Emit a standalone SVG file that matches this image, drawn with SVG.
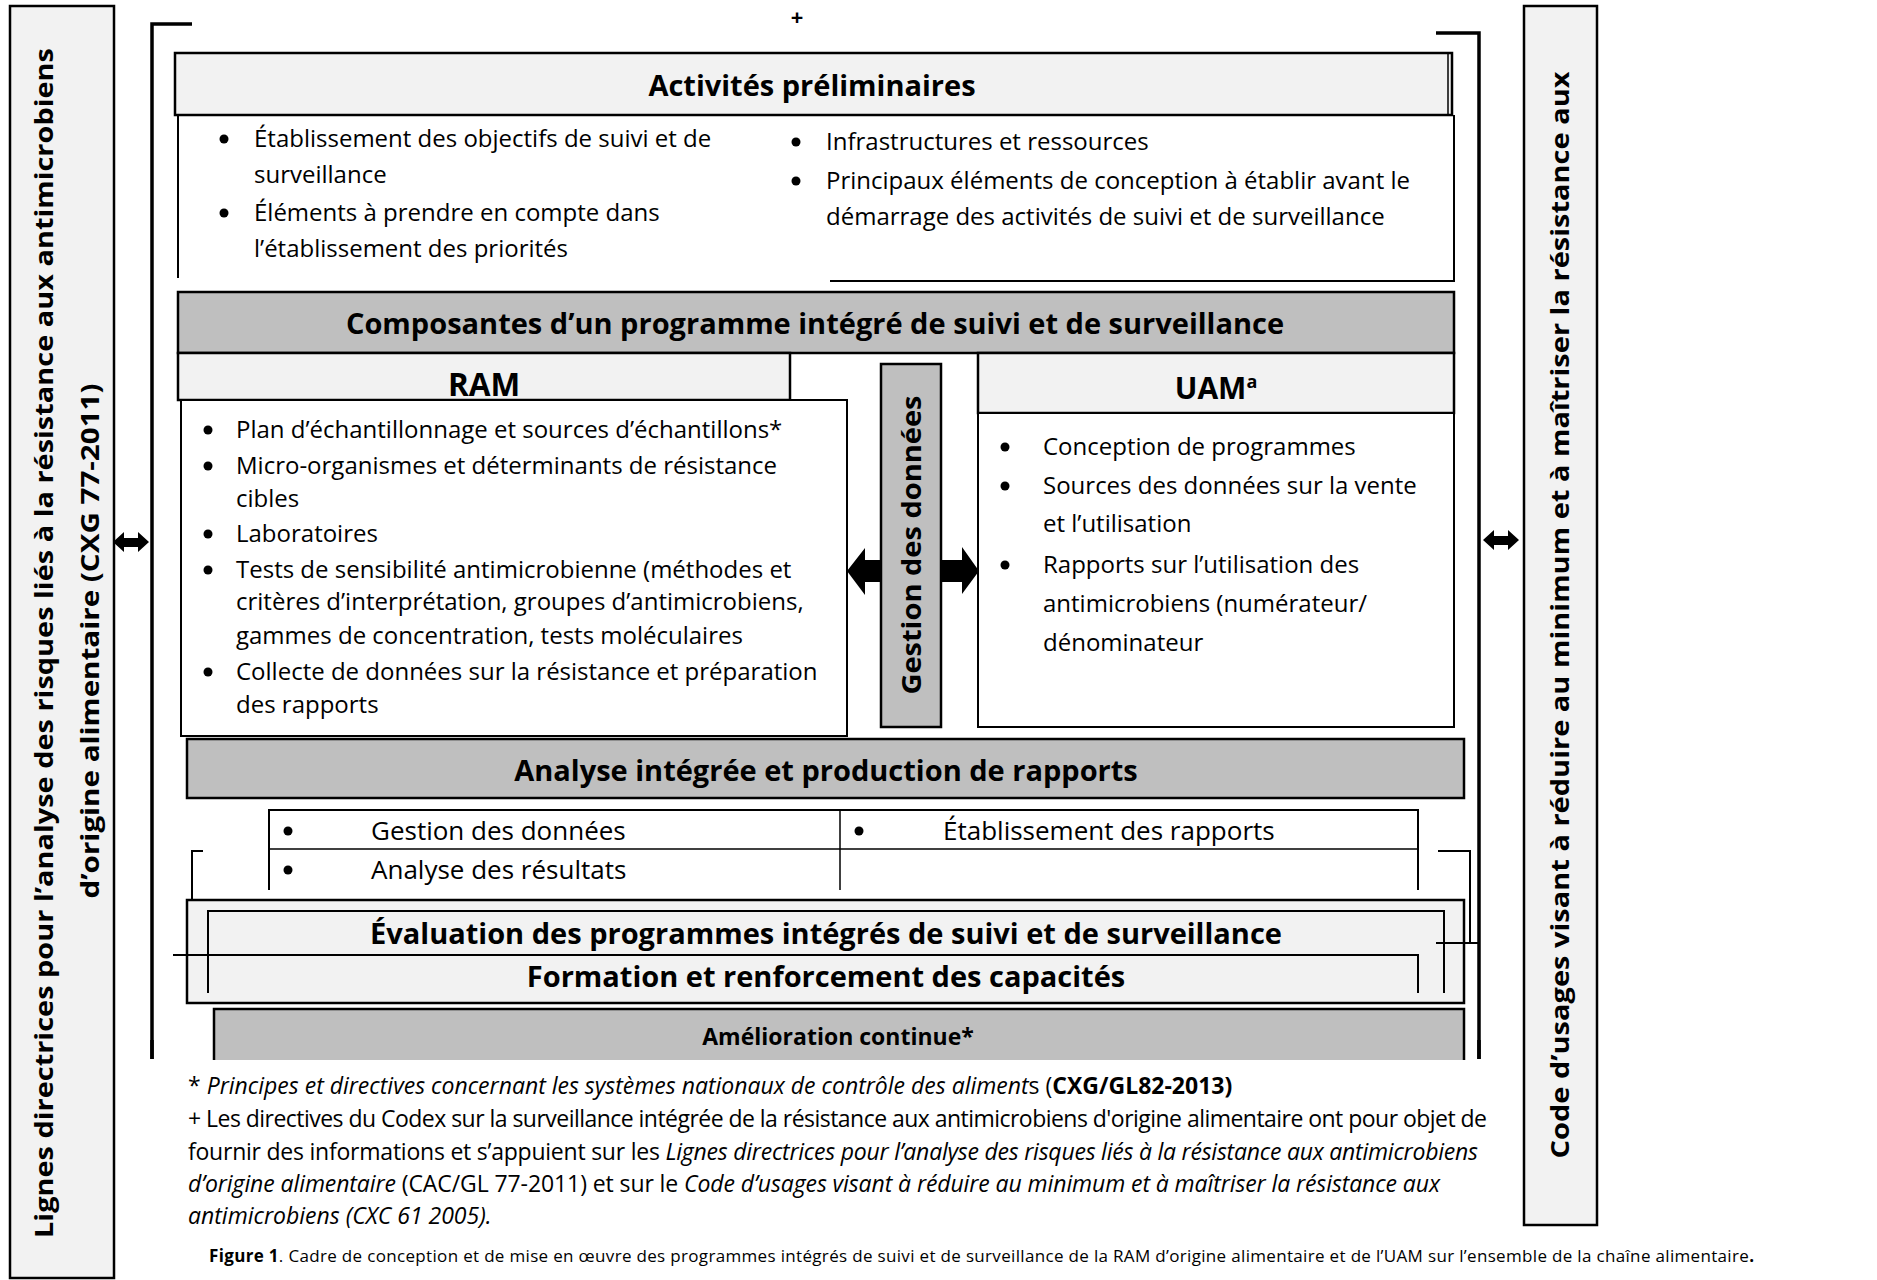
<svg xmlns="http://www.w3.org/2000/svg" width="1877" height="1280" viewBox="0 0 1877 1280">
<style>
text{font-family:"Open Sans","Liberation Sans",sans-serif;fill:#000}
.t{font-weight:bold;font-size:29px;text-anchor:middle}
.b{font-size:24px}
.tb{font-size:26px}
.side{font-weight:bold;font-size:25px;text-anchor:middle}
.fn{font-size:23px}
.i{font-style:italic}
.bd{font-weight:bold}
.lt{fill:#f2f2f2;stroke:#000;stroke-width:2.5}
.gr{fill:#bfbfbf;stroke:#000;stroke-width:2.5}
.wh{fill:#fff;stroke:#000;stroke-width:2}
.ln{fill:none;stroke:#000;stroke-width:2}
.thk{fill:none;stroke:#000;stroke-width:3.5}
.dot{fill:#000}
</style>
<rect width="1877" height="1280" fill="#fff"/>

<g id="left-guidelines">
<rect x="10" y="6" width="104" height="1272" class="lt" stroke-width="3"/>
<text class="side" transform="translate(44,643) rotate(-90)" dy="9" textLength="1190" lengthAdjust="spacingAndGlyphs">Lignes directrices pour l’analyse des risques liés à la résistance aux antimicrobiens</text>
<text class="side" transform="translate(90,641) rotate(-90)" dy="9" textLength="515" lengthAdjust="spacingAndGlyphs">d’origine alimentaire (CXG 77-2011)</text>
</g>

<g id="right-code">
<rect x="1524" y="6" width="73" height="1219" class="lt" stroke-width="3"/>
<text class="side" transform="translate(1560,615) rotate(-90)" dy="9" textLength="1087" lengthAdjust="spacingAndGlyphs">Code d’usages visant à réduire au minimum et à maîtriser la résistance aux</text>
</g>

<g id="frame">
<polyline points="192,24 152,24 152,1059" class="thk"/>
<polyline points="1436,33 1479,33 1479,1059" class="thk"/>
<text x="797" y="25" style="font-size:22px;font-weight:bold" text-anchor="middle">+</text>
</g>

<g id="connectors">
<polygon points="113,542 124,532 124,538 138,538 138,532 149,542 138,552 138,547 124,547 124,552" fill="#000"/>
<polygon points="1483,540 1494,530 1494,536 1508,536 1508,530 1519,540 1508,550 1508,545 1494,545 1494,550" fill="#000"/>
<polygon points="847,571 865,548 865,560 962,560 962,547 979,571 962,594 962,582 865,582 865,595" fill="#000"/>
</g>

<g id="activites">
<rect x="175" y="53" width="1277" height="62" class="lt" stroke-width="3"/>
<line x1="1448" y1="53" x2="1448" y2="115" stroke="#000" stroke-width="1.5"/>
<text class="t" x="812" y="96">Activités préliminaires</text>
<polyline points="178,115 178,278" class="ln"/>
<polyline points="1454,115 1454,281 830,281" class="ln" stroke-width="2.5"/>
<circle cx="224" cy="139" r="4.5" class="dot"/>
<text x="254" y="147" class="b">Établissement des objectifs de suivi et de</text>
<text x="254" y="183" class="b">surveillance</text>
<circle cx="224" cy="213" r="4.5" class="dot"/>
<text x="254" y="221" class="b">Éléments à prendre en compte dans</text>
<text x="254" y="257" class="b">l’établissement des priorités</text>
<circle cx="796" cy="142" r="4.5" class="dot"/>
<text x="826" y="150" class="b">Infrastructures et ressources</text>
<circle cx="796" cy="181" r="4.5" class="dot"/>
<text x="826" y="189" class="b">Principaux éléments de conception à établir avant le</text>
<text x="826" y="225" class="b">démarrage des activités de suivi et de surveillance</text>
</g>

<g id="composantes">
<rect x="178" y="292" width="1276" height="61" class="gr"/>
<text class="t" x="815" y="334">Composantes d’un programme intégré de suivi et de surveillance</text>
</g>

<g id="ram">
<rect x="178" y="353" width="612" height="47" class="lt" stroke-width="2"/>
<text class="t" x="484" y="396" style="font-size:31.5px">RAM</text>
<rect x="181" y="400" width="666" height="336" class="wh" stroke-width="2.5"/>
<circle cx="208" cy="430" r="4.5" class="dot"/>
<text x="236" y="438" class="b">Plan d’échantillonnage et sources d’échantillons*</text>
<circle cx="208" cy="466" r="4.5" class="dot"/>
<text x="236" y="474" class="b">Micro-organismes et déterminants de résistance</text>
<text x="236" y="507" class="b">cibles</text>
<circle cx="208" cy="534" r="4.5" class="dot"/>
<text x="236" y="542" class="b">Laboratoires</text>
<circle cx="208" cy="570" r="4.5" class="dot"/>
<text x="236" y="578" class="b">Tests de sensibilité antimicrobienne (méthodes et</text>
<text x="236" y="610" class="b">critères d’interprétation, groupes d’antimicrobiens,</text>
<text x="236" y="644" class="b">gammes de concentration, tests moléculaires</text>
<circle cx="208" cy="672" r="4.5" class="dot"/>
<text x="236" y="680" class="b">Collecte de données sur la résistance et préparation</text>
<text x="236" y="713" class="b">des rapports</text>
</g>

<g id="gestion">
<rect x="881" y="364" width="60" height="363" class="gr"/>
<text class="t" transform="translate(912,545) rotate(-90)" dy="9" style="font-size:27px" textLength="299" lengthAdjust="spacingAndGlyphs">Gestion des données</text>
</g>

<g id="uam">
<rect x="978" y="353" width="476" height="60" class="lt" stroke-width="2.5"/>
<text class="t" x="1216" y="399" style="font-size:30px">UAM<tspan style="font-size:18px" dy="-11">a</tspan></text>
<rect x="978" y="413" width="476" height="314" class="wh" stroke-width="2.5"/>
<circle cx="1005" cy="447" r="4.5" class="dot"/>
<text x="1043" y="455" class="b">Conception de programmes</text>
<circle cx="1005" cy="486" r="4.5" class="dot"/>
<text x="1043" y="494" class="b">Sources des données sur la vente</text>
<text x="1043" y="532" class="b">et l’utilisation</text>
<circle cx="1005" cy="565" r="4.5" class="dot"/>
<text x="1043" y="573" class="b">Rapports sur l’utilisation des</text>
<text x="1043" y="612" class="b">antimicrobiens (numérateur/</text>
<text x="1043" y="651" class="b">dénominateur</text>
</g>

<g id="analyse">
<rect x="187" y="739" width="1277" height="59" class="gr"/>
<text class="t" x="826" y="781">Analyse intégrée et production de rapports</text>
<polyline points="269,890 269,810 1418,810 1418,890" class="ln" stroke-width="1.5"/>
<line x1="269" y1="849" x2="1418" y2="849" stroke="#000" stroke-width="1.5"/>
<line x1="840" y1="810" x2="840" y2="890" stroke="#000" stroke-width="1.5"/>
<circle cx="288" cy="831" r="4.5" class="dot"/>
<text x="371" y="840" class="tb">Gestion des données</text>
<circle cx="859" cy="831" r="4.5" class="dot"/>
<text x="943" y="840" class="tb">Établissement des rapports</text>
<circle cx="288" cy="870" r="4.5" class="dot"/>
<text x="371" y="879" class="tb">Analyse des résultats</text>
<polyline points="203,851 192,851 192,900" class="ln" stroke-width="2.5" stroke="#333"/>
<polyline points="1438,851 1470,851 1470,943" class="ln" stroke-width="2.5" stroke="#333"/>
</g>

<g id="evaluation">
<rect x="187" y="900" width="1277" height="103" class="lt" stroke-width="3"/>
<polyline points="208,993 208,911 1444,911 1444,993" class="ln"/>
<polyline points="173,955 1418,955 1418,993" class="ln"/>
<line x1="1436" y1="943" x2="1478" y2="943" stroke="#000" stroke-width="2"/>
<text class="t" x="826" y="944">Évaluation des programmes intégrés de suivi et de surveillance</text>
<text class="t" x="826" y="987">Formation et renforcement des capacités</text>
</g>

<g id="amelioration">
<rect x="214" y="1009" width="1250" height="55" class="gr"/>
<rect x="150" y="1060" width="1340" height="10" fill="#fff"/>
<line x1="152" y1="1040" x2="152" y2="1059" stroke="#000" stroke-width="3.5"/>
<line x1="1479" y1="1040" x2="1479" y2="1059" stroke="#000" stroke-width="3.5"/>
<text class="t" x="838" y="1045" style="font-size:23px">Amélioration continue*</text>
</g>

<g id="notes">
<text x="188" y="1094" class="fn">* <tspan class="i">Principes et directives concernant les systèmes nationaux de contrôle des aliment</tspan>s (<tspan class="bd">CXG/GL82-2013)</tspan></text>
<text x="188" y="1127" class="fn" textLength="1299">+ Les directives du Codex sur la surveillance intégrée de la résistance aux antimicrobiens d'origine alimentaire ont pour objet de</text>
<text x="188" y="1160" class="fn" textLength="1290">fournir des informations et s’appuient sur les <tspan class="i">Lignes directrices pour l’analyse des risques liés à la résistance aux antimicrobiens</tspan></text>
<text x="188" y="1192" class="fn" textLength="1252"><tspan class="i">d’origine alimentaire</tspan> (CAC/GL 77-2011) et sur le <tspan class="i">Code d’usages visant à réduire au minimum et à maîtriser la résistance aux</tspan></text>
<text x="188" y="1224" class="fn i">antimicrobiens (CXC 61 2005).</text>
<text x="209" y="1262" style="font-size:17px" textLength="1545"><tspan class="bd">Figure 1</tspan>. Cadre de conception et de mise en œuvre des programmes intégrés de suivi et de surveillance de la RAM d’origine alimentaire et de l’UAM sur l’ensemble de la chaîne alimentaire<tspan class="bd">.</tspan></text>
</g>
</svg>
